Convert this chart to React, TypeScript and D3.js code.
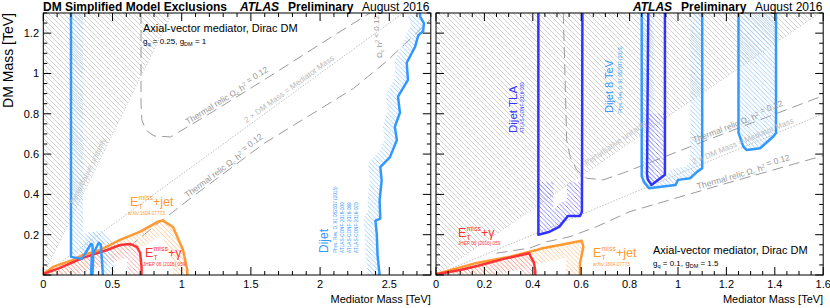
import * as d3 from 'd3'

type P = [number, number]

const FONT = "'Liberation Sans', Arial, Helvetica, sans-serif"

// tick labels
const yTickLabels = [0.2, 0.4, 0.6, 0.8, 1, 1.2]
const leftXTickLabels = [0, 0.5, 1, 1.5, 2, 2.5]
const rightXTickLabels = [0, 0.2, 0.4, 0.6, 0.8, 1, 1.2, 1.4, 1.6]

// left panel: gq = 0.25, gDM = 1
const leftUnitarity: P[] = [[0, 0], [0.93, 1.3]]
const leftHalfMass: P[] = [[0, 0], [2.6, 1.3]]
const leftRelicUpper: P[] = [[0.706, 1.3], [0.706, 0.85], [0.712, 0.77], [0.74, 0.72], [0.8, 0.69], [0.92, 0.685], [1.2, 0.8], [1.6, 0.97], [2.05, 1.167], [2.36, 1.3]]
const leftRelicLower: P[] = [[0.62, 0.14], [0.8, 0.24], [1.1, 0.4], [1.6, 0.655], [2.24, 0.925], [2.48, 1.06], [2.65, 1.17], [2.8, 1.27]]
const leftMonojet: P[] = [[0, 0.005], [0.07, 0.04], [0.215, 0.075], [0.287, 0.1], [0.41, 0.124], [0.554, 0.174], [0.7, 0.215], [0.83, 0.265], [0.865, 0.27], [0.937, 0.238], [1.01, 0.124], [1.04, 0.025], [1.04, 0]]
const leftMonophoton: P[] = [[0, 0.005], [0.12, 0.035], [0.287, 0.085], [0.46, 0.124], [0.554, 0.149], [0.626, 0.154], [0.676, 0.14], [0.7, 0.109], [0.71, 0.04], [0.71, 0]]
const leftDijetLowA: P[] = [[0.2, 1.3], [0.2, 0.09], [0.28, 0.08], [0.345, 0.155], [0.355, 0.15], [0.36, 0.08], [0.355, 0]]
const leftDijetLowB: P[] = [[0.345, 0], [0.35, 0.09], [0.4, 0.16], [0.415, 0.15], [0.425, 0.06], [0.43, 0]]
const leftDijetHigh: P[] = [[2.43, 0], [2.415, 0.1], [2.41, 0.2], [2.4, 0.27], [2.435, 0.28], [2.43, 0.37], [2.445, 0.47], [2.435, 0.535], [2.505, 0.585], [2.555, 0.67], [2.54, 0.735], [2.577, 0.805], [2.563, 0.885], [2.635, 0.968], [2.626, 1.053], [2.686, 1.132], [2.71, 1.19], [2.745, 1.21], [2.75, 1.25], [2.725, 1.28], [2.72, 1.3]]

// right panel: gq = 0.1, gDM = 1.5
const rightUnitarity: P[] = [[0, 0], [1.585, 1.3]]
const rightHalfMass: P[] = [[0, 0], [1.6, 0.8]]
const rightRelicUpper: P[] = [[0.526, 1.3], [0.535, 0.9], [0.54, 0.67], [0.554, 0.587], [0.581, 0.521], [0.623, 0.48], [0.691, 0.472], [0.773, 0.506], [1.1, 0.66], [1.6, 0.89]]
const rightRelicLower: P[] = [[0.25, 0.108], [0.292, 0.116], [0.388, 0.134], [0.457, 0.165], [0.554, 0.19], [0.664, 0.24], [0.8, 0.314], [1.2, 0.455], [1.6, 0.592]]
const rightMonojet: P[] = [[0, 0.005], [0.168, 0.06], [0.306, 0.091], [0.416, 0.124], [0.44, 0.133], [0.512, 0.149], [0.581, 0.165], [0.602, 0.17], [0.609, 0.14], [0.595, 0.058], [0.595, 0]]
const rightMonophoton: P[] = [[0, 0.003], [0.1, 0.025], [0.17, 0.045], [0.28, 0.08], [0.385, 0.108], [0.392, 0.09], [0.405, 0.06], [0.41, 0.02], [0.41, 0]]
const rightTlaA: P[] = [[0.423, 1.3], [0.423, 0.2], [0.47, 0.215], [0.51, 0.24], [0.545, 0.293], [0.595, 0.293], [0.603, 0.314], [0.605, 1.3]]
const rightTlaB: P[] = [[0.877, 1.3], [0.872, 0.5], [0.875, 0.475], [0.89, 0.447], [0.946, 0.497], [0.946, 1.3]]
const right8TevA: P[] = [[0.85, 1.3], [0.85, 0.49], [0.86, 0.46], [0.88, 0.43], [0.99, 0.447], [1.0, 0.472], [1.05, 0.48], [1.08, 0.513], [1.1, 0.53], [1.1, 1.3]]
const right8TevB: P[] = [[1.25, 1.3], [1.25, 0.705], [1.27, 0.637], [1.284, 0.62], [1.339, 0.629], [1.394, 0.687], [1.405, 0.705], [1.405, 1.3]]

const BLUE = '#3399ff'
const DBLUE = '#3333ff'
const ORANGE = '#ff9933'
const RED = '#ff3333'

const yS = d3.scaleLinear().domain([0, 1.3]).range([275, 13])
const xL = d3.scaleLinear().domain([0, 2.8]).range([43.3, 430.8])
const xR = d3.scaleLinear().domain([0, 1.6]).range([436, 823.2])

const capY = (pts: P[], top: number): P[] => pts.map(([x, y]) => [x, Math.min(y, top)] as P)

function interp(pts: P[], xv: number) {
  for (let i = 0; i < pts.length - 1; i++) {
    const a = pts[i], b = pts[i + 1]
    if (xv >= Math.min(a[0], b[0]) && xv <= Math.max(a[0], b[0]) && a[0] !== b[0]) {
      return a[1] + (b[1] - a[1]) * (xv - a[0]) / (b[0] - a[0])
    }
  }
  return pts[pts.length - 1][1]
}

const Hatch = ({ id, color, gap = 5 }: { id: string; color: string; gap?: number }) => (
  <pattern id={id} width={gap} height={gap} patternUnits="userSpaceOnUse">
    <path d={`M0,0L${gap},${gap}M-1,${gap - 1}L1,${gap + 1}M${gap - 1},-1L${gap + 1},1`} stroke={color} strokeWidth={0.9} />
  </pattern>
)

const Omega = () => (
  <>Ω<tspan dy={1.5} fontSize="0.65em">c</tspan><tspan dy={-1.5}> h</tspan><tspan dy={-3} fontSize="0.65em">2</tspan><tspan dy={3}></tspan></>
)

function LineLabel({ xs, pts, xv, off = 2, size = 8.5, color = '#999', children }: any) {
  const px = xs(xv), py = yS(interp(pts, xv))
  const ang = Math.atan2(yS(interp(pts, xv + 0.05)) - yS(interp(pts, xv - 0.05)), xs(xv + 0.05) - xs(xv - 0.05)) * 180 / Math.PI
  return (
    <g transform={`translate(${px},${py}) rotate(${ang})`}>
      <text y={-off} textAnchor="middle" fontSize={size} fill={color}>{children}</text>
    </g>
  )
}

function EMiss({ x, y, suffix, color }: { x: number; y: number; suffix: string; color: string }) {
  return (
    <g fill={color}>
      <text x={x} y={y} fontSize={12.5}>E</text>
      <text x={x + 8.5} y={y - 6} fontSize={7}>miss</text>
      <text x={x + 8.5} y={y + 3} fontSize={7}>T</text>
      <text x={x + 23} y={y} fontSize={12.5}>{suffix}</text>
    </g>
  )
}

type Excl = { id: string; lines: P[][]; clip: P[]; hatch: P[][]; color: string; pat: string; band: number }

function Frame({ xs, xMajor, xMinor, xLabels, showY, title }: any) {
  const [x0, x1] = xs.range()
  const xmax = xs.domain()[1]
  const isMajor = (v: number, s: number) => Math.abs(v / s - Math.round(v / s)) < 1e-6
  const mx = d3.range(0, xmax + 1e-9, xMinor)
  const my = d3.range(0, 1.3 + 1e-9, 0.05)
  return (
    <g>
      <rect x={x0} y={13} width={x1 - x0} height={262} fill="none" stroke="#000" strokeWidth={1} />
      {mx.map((v: number, i: number) => {
        const l = isMajor(v, xMajor) ? 8 : 4
        return <g key={i} stroke="#000">
          <line x1={xs(v)} x2={xs(v)} y1={275} y2={275 - l} />
          <line x1={xs(v)} x2={xs(v)} y1={13} y2={13 + l} />
        </g>
      })}
      {my.map((v: number, i: number) => {
        const l = isMajor(v, 0.2) ? 8 : 4
        return <g key={i} stroke="#000">
          <line x1={x0} x2={x0 + l} y1={yS(v)} y2={yS(v)} />
          <line x1={x1} x2={x1 - l} y1={yS(v)} y2={yS(v)} />
        </g>
      })}
      {xLabels.map((v: number) => (
        <text key={v} x={xs(v)} y={288} textAnchor="middle" fontSize={11}>{v}</text>
      ))}
      {showY && yTickLabels.map(v => (
        <text key={v} x={39} y={yS(v) + 4} textAnchor="end" fontSize={11}>{v}</text>
      ))}
      <text x={x1} y={303} textAnchor="end" fontSize={11}>{title}</text>
    </g>
  )
}

function Panel({ id, xs, unit, half, relicUp, relicLow, excl }: { id: string; xs: any; unit: P[]; half: P[]; relicUp: P[]; relicLow: P[]; excl: Excl[] }) {
  const ln = d3.line<P>().x(d => xs(d[0])).y(d => yS(d[1]))
  const [x0, x1] = xs.range()
  return (
    <g>
      <clipPath id={`frame-${id}`}><rect x={x0} y={13} width={x1 - x0} height={262} /></clipPath>
      {excl.map(e => <clipPath key={e.id} id={e.id}><path d={ln(e.clip) + 'Z'} /></clipPath>)}
      <g clipPath={`url(#frame-${id})`}>
        <path d={ln([...unit, [0, 1.3]]) + 'Z'} fill="url(#hGray)" />
        <path d={ln(unit) || ''} fill="none" stroke="#c4c4c4" strokeWidth={1} strokeDasharray="1 2" />
        <path d={ln(half) || ''} fill="none" stroke="#c0c0c0" strokeWidth={1} strokeDasharray="1.5 1.5" />
        <path d={ln(relicUp) || ''} fill="none" stroke="#9a9a9a" strokeWidth={1} strokeDasharray="11 6" />
        <path d={ln(relicLow) || ''} fill="none" stroke="#9a9a9a" strokeWidth={1} strokeDasharray="11 6" />
        {excl.map(e => (
          <g key={e.id} clipPath={`url(#${e.id})`}>
            {e.hatch.map((h, i) => <path key={i} d={ln(h) || ''} fill="none" stroke={`url(#${e.pat})`} strokeWidth={e.band * 2} strokeLinejoin="round" />)}
          </g>
        ))}
        {excl.map(e => e.lines.map((l, i) => (
          <path key={e.id + i} d={ln(l) || ''} fill="none" stroke={e.color} strokeWidth={2.5} strokeLinejoin="round" />
        )))}
      </g>
    </g>
  )
}

const leftExcl: Excl[] = [
  { id: 'lMj', lines: [leftMonojet], clip: leftMonojet, hatch: [leftMonojet], color: ORANGE, pat: 'hOrange', band: 14 },
  { id: 'lMp', lines: [leftMonophoton], clip: leftMonophoton, hatch: [leftMonophoton], color: RED, pat: 'hRed', band: 14 },
  {
    id: 'lDj', lines: [leftDijetLowA, leftDijetLowB, leftDijetHigh],
    clip: [...leftDijetLowA.slice(0, 4), ...leftDijetLowB.slice(2), ...leftDijetHigh],
    hatch: [leftDijetLowA, leftDijetLowB, leftDijetHigh], color: BLUE, pat: 'hBlue', band: 12,
  },
]

const rightExcl: Excl[] = [
  { id: 'rMj', lines: [rightMonojet], clip: rightMonojet, hatch: [rightMonojet], color: ORANGE, pat: 'hOrange', band: 14 },
  { id: 'rMp', lines: [rightMonophoton], clip: rightMonophoton, hatch: [rightMonophoton], color: RED, pat: 'hRed', band: 14 },
  { id: 'r8a', lines: [right8TevA], clip: right8TevA, hatch: [right8TevA], color: BLUE, pat: 'hBlue', band: 12 },
  { id: 'r8b', lines: [right8TevB], clip: right8TevB, hatch: [right8TevB], color: BLUE, pat: 'hBlue', band: 20 },
  { id: 'rTa', lines: [rightTlaA], clip: capY(rightTlaA, 0.46), hatch: [rightTlaA], color: DBLUE, pat: 'hDBlue', band: 15 },
  { id: 'rTb', lines: [rightTlaB], clip: capY(rightTlaB, 0.8), hatch: [rightTlaB], color: DBLUE, pat: 'hDBlue', band: 15 },
]

const refStyle = { fontSize: 4.7 }

export default function App() {
  return (
    <svg width={830} height={308} fontFamily={FONT} style={{ position: 'absolute', left: 0, top: 0, background: '#fff' }}>
      <defs>
        <Hatch id="hGray" color="#cdcdcd" gap={5} />
        <Hatch id="hBlue" color="#9ccdff" gap={4.5} />
        <Hatch id="hDBlue" color="#7f7fff" gap={4.5} />
        <Hatch id="hOrange" color="#ffc58c" gap={4.5} />
        <Hatch id="hRed" color="#f8a0a0" gap={4.5} />
      </defs>
      <rect width={830} height={308} fill="#fff" />

      {/* left panel */}
      <Panel id="L" xs={xL} unit={leftUnitarity} half={leftHalfMass} relicUp={leftRelicUpper} relicLow={leftRelicLower} excl={leftExcl} />
      <LineLabel xs={xL} pts={leftRelicUpper} xv={1.35}>Thermal relic <Omega /> = 0.12</LineLabel>
      <LineLabel xs={xL} pts={leftRelicLower} xv={1.33}>Thermal relic <Omega /> = 0.12</LineLabel>
      <LineLabel xs={xL} pts={leftHalfMass} xv={1.8} size={8} color="#bbb" off={3}>2 × DM Mass = Mediator Mass</LineLabel>
      <LineLabel xs={xL} pts={leftUnitarity} xv={0.36} size={8} color="#c4c4c4" off={3}>Perturbative unitarity</LineLabel>
      <g transform="translate(382,58) rotate(-90)">
        <text fontSize={8} fill="#999"><Omega /> &lt; 0.12</text>
      </g>
      <EMiss x={130} y={206} suffix="+jet" color={ORANGE} />
      <text x={128} y={215} fill={ORANGE} {...refStyle}>arXiv:1604.07773</text>
      <EMiss x={145} y={257} suffix="+γ" color={RED} />
      <text x={143} y={266} fill={RED} {...refStyle}>JHEP 06 (2016) 059</text>
      <g transform="translate(328,253) rotate(-90)" fill={BLUE}>
        <text fontSize={12}>Dijet</text>
        <text y={9} {...refStyle}>Phys. Rev. D. 91 052007 (2015)</text>
        <text y={16} {...refStyle}>ATLAS-CONF-2016-030</text>
        <text y={23} {...refStyle}>ATLAS-CONF-2016-069</text>
        <text y={30} {...refStyle}>ATLAS-CONF-2016-070</text>
      </g>
      <text x={143} y={32} fontSize={11}>Axial-vector mediator, Dirac DM</text>
      <text x={143} y={44} fontSize={8}>g<tspan dy={2} fontSize={5.5}>q</tspan><tspan dy={-2}> = 0.25, g</tspan><tspan dy={2} fontSize={5.5}>DM</tspan><tspan dy={-2}> = 1</tspan></text>
      <Frame xs={xL} xMajor={0.5} xMinor={0.1} xLabels={leftXTickLabels} showY title="Mediator Mass [TeV]" />
      <text transform="translate(13,13) rotate(-90)" textAnchor="end" fontSize={14}>DM Mass [TeV]</text>
      <text y={11} fontSize={12}>
        <tspan x={43} fontWeight="bold">DM Simplified Model Exclusions</tspan>
        <tspan x={240} fontWeight="bold" fontStyle="italic">ATLAS</tspan>
        <tspan x={288} fontWeight="bold">Preliminary</tspan>
        <tspan x={362}>August 2016</tspan>
      </text>

      {/* right panel */}
      <Panel id="R" xs={xR} unit={rightUnitarity} half={rightHalfMass} relicUp={rightRelicUpper} relicLow={rightRelicLower} excl={rightExcl} />
      <LineLabel xs={xR} pts={rightRelicUpper} xv={1.256}>Thermal relic <Omega /> = 0.12</LineLabel>
      <LineLabel xs={xR} pts={rightRelicLower} xv={1.277}>Thermal relic <Omega /> = 0.12</LineLabel>
      <LineLabel xs={xR} pts={rightHalfMass} xv={1.277} size={8} color="#bbb" off={3}>2 × DM Mass = Mediator Mass</LineLabel>
      <LineLabel xs={xR} pts={rightUnitarity} xv={0.76} size={8} color="#c4c4c4" off={5}>Perturbative unitarity</LineLabel>
      <EMiss x={458} y={237} suffix="+γ" color={RED} />
      <text x={458} y={245} fill={RED} {...refStyle}>JHEP 06 (2016) 059</text>
      <EMiss x={593} y={257} suffix="+jet" color={ORANGE} />
      <text x={593} y={266} fill={ORANGE} {...refStyle}>arXiv:1604.07773</text>
      <g transform="translate(517,133) rotate(-90)" fill={DBLUE}>
        <text fontSize={11.5}>Dijet TLA</text>
        <text y={7} {...refStyle}>ATLAS-CONF-2016-030</text>
      </g>
      <g transform="translate(613,113) rotate(-90)" fill={BLUE}>
        <text fontSize={11}>Dijet 8 TeV</text>
        <text y={9} {...refStyle}>Phys. Rev. D. 91 052007 (2015)</text>
      </g>
      <text x={653} y={254} fontSize={11}>Axial-vector mediator, Dirac DM</text>
      <text x={653} y={266} fontSize={8}>g<tspan dy={2} fontSize={5.5}>q</tspan><tspan dy={-2}> = 0.1, g</tspan><tspan dy={2} fontSize={5.5}>DM</tspan><tspan dy={-2}> = 1.5</tspan></text>
      <Frame xs={xR} xMajor={0.2} xMinor={0.05} xLabels={rightXTickLabels} showY={false} title="Mediator Mass [TeV]" />
      <text y={11} fontSize={12}>
        <tspan x={633} fontWeight="bold" fontStyle="italic">ATLAS</tspan>
        <tspan x={681} fontWeight="bold">Preliminary</tspan>
        <tspan x={755}>August 2016</tspan>
      </text>
    </svg>
  )
}
